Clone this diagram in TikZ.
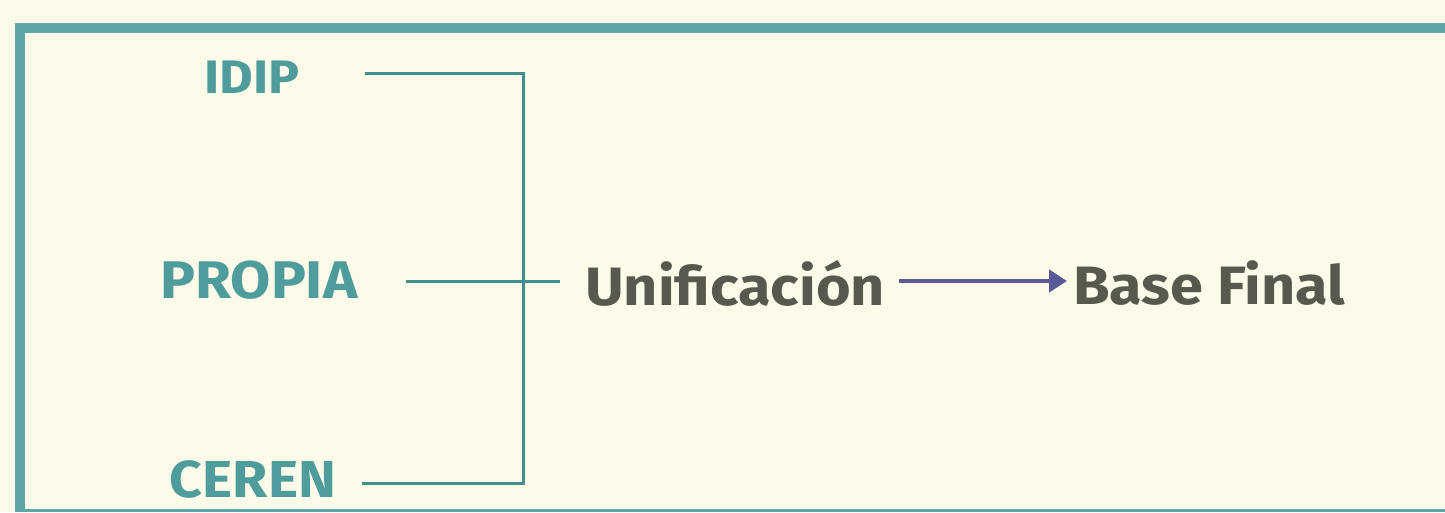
\documentclass[tikz,border=0pt]{standalone}
\usepackage{fontspec}
\setmainfont{Fira Sans Bold}[FakeStretch=1.1]
\usetikzlibrary{arrows.meta}
\definecolor{bg}{HTML}{FCFAE8}
\definecolor{frame}{HTML}{5EA6A6}
\definecolor{tealtxt}{HTML}{4E9C9C}
\definecolor{tealline}{HTML}{3F8F8F}
\definecolor{graytxt}{HTML}{58584F}
\definecolor{arrowc}{HTML}{5A5A98}
\tikzset{
  src/.style={inner sep=0pt, text=tealtxt, anchor=center},
  main/.style={inner sep=0pt, text=graytxt, anchor=west},
  conn/.style={draw=tealline, line width=3pt},
  flow/.style={draw=arrowc, line width=4.5pt, -{Triangle[length=18pt,width=22pt]}},
}
\begin{document}
\begin{tikzpicture}[x=1pt,y=-1pt]
\useasboundingbox (0,0) rectangle (1445,512);
\fill[bg] (0,0) rectangle (1445,512);
% frame
\draw[frame, line width=3pt] (19,510) -- (1445,510);
\draw[frame, line width=10pt] (19.5,512) -- (19.5,27.5) -- (1445,27.5);
% source nodes
\node[src, font=\fontsize{47}{47}\selectfont] (idip) at (252,77) {IDIP};
\node[src, font=\fontsize{53}{53}\selectfont] (propia) at (259,280) {PROPIA};
\node[src, font=\fontsize{52}{52}\selectfont] (ceren) at (253,479) {CEREN};
\node[main, font=\fontsize{54}{54}\selectfont] (unif) at (585,283) {Unificación};
\node[main, font=\fontsize{54}{54}\selectfont] (base) at (1073,283) {Base Final};
% junction points
\coordinate (jtop) at (523,73);
\coordinate (jbot) at (523,483);
\coordinate (jmid) at (560,281);
% connectors
\draw[conn] (idip.east |- jtop) ++(65,0) -- (jtop) -- (jbot) -- ++(-161,0);
\draw[conn] (propia.east |- jmid) ++(48,0) -- (jmid);
\draw[flow] (unif.east |- jmid) ++(14,0) -- ([xshift=-6pt]base.west |- jmid);
\end{tikzpicture}
\end{document}
